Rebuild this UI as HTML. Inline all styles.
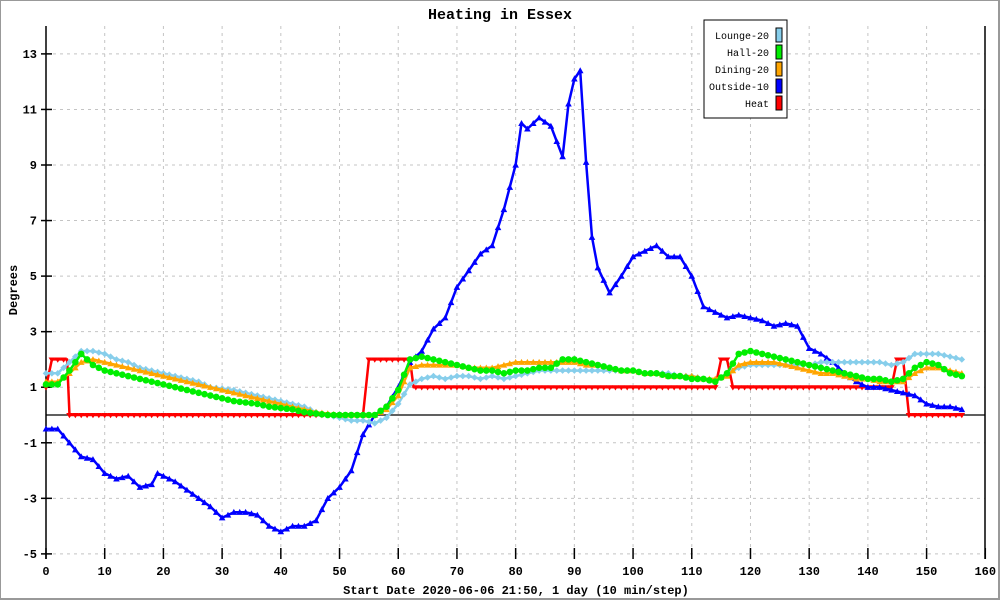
<!DOCTYPE html>
<html><head><meta charset="utf-8"><style>
body{margin:0;background:#fff}
svg{display:block;font-family:"Liberation Mono",monospace}
</style></head><body>
<svg id="chart" width="1000" height="600" viewBox="0 0 1000 600">
<rect x="0" y="0" width="999" height="599" fill="#fff" stroke="#999" stroke-width="2"/>
<text x="500" y="19" text-anchor="middle" font-size="15" font-weight="bold">Heating in Essex</text>
<g id="grid"></g><g id="axes"></g><g id="series"></g>
<text x="516" y="594" text-anchor="middle" font-size="12" font-weight="bold">Start Date 2020-06-06 21:50, 1 day (10 min/step)</text>
<text transform="translate(17,290) rotate(-90)" text-anchor="middle" font-size="12" font-weight="bold">Degrees</text>
<g>
<rect x="704" y="20" width="83" height="98" fill="#fff" stroke="#000" stroke-width="1"/>
<g id="legend"></g>
</g>
</svg>
<script>
const evenSteps=[];for(let s=0;s<=156;s+=2)evenSteps.push(s);
const loungeVals=[1.5,1.5,1.9,2.3,2.3,2.2,2.0,1.9,1.7,1.6,1.5,1.4,1.3,1.2,1.0,0.95,0.9,0.8,0.7,0.6,0.5,0.4,0.3,0.1,0.0,-0.1,-0.2,-0.2,-0.3,-0.1,0.4,1.1,1.3,1.4,1.3,1.4,1.4,1.3,1.4,1.3,1.4,1.5,1.6,1.6,1.6,1.6,1.6,1.6,1.6,1.6,1.6,1.5,1.5,1.5,1.4,1.4,1.3,1.2,1.5,1.7,1.8,1.8,1.8,1.8,1.8,1.8,1.9,1.9,1.9,1.9,1.9,1.9,1.8,1.9,2.2,2.2,2.2,2.1,2.0];
const hallVals=[1.1,1.1,1.6,2.2,1.8,1.6,1.5,1.4,1.3,1.2,1.1,1.0,0.9,0.8,0.7,0.6,0.5,0.45,0.4,0.3,0.25,0.2,0.1,0.05,0,0,0,0,0,0.3,0.9,2.0,2.1,2.0,1.9,1.8,1.7,1.6,1.6,1.5,1.6,1.6,1.7,1.7,2.0,2.0,1.9,1.8,1.7,1.6,1.6,1.5,1.5,1.4,1.4,1.3,1.3,1.2,1.5,2.2,2.3,2.2,2.1,2.0,1.9,1.8,1.7,1.6,1.5,1.4,1.3,1.3,1.2,1.3,1.7,1.9,1.8,1.5,1.4];
const diningVals=[1.2,1.2,1.5,1.9,2.0,1.9,1.8,1.7,1.6,1.5,1.4,1.3,1.2,1.1,1.0,0.9,0.8,0.7,0.6,0.5,0.4,0.3,0.2,0.1,0.05,0,0,0,0,0.2,0.7,1.7,1.8,1.8,1.8,1.8,1.7,1.7,1.7,1.8,1.9,1.9,1.9,1.9,1.9,1.9,1.8,1.8,1.7,1.6,1.6,1.5,1.5,1.4,1.4,1.4,1.3,1.3,1.4,1.8,1.9,1.9,1.9,1.8,1.7,1.6,1.5,1.5,1.4,1.3,1.3,1.2,1.2,1.2,1.5,1.7,1.7,1.6,1.5];
const outsideSteps=[0,2,4,6,8,10,12,14,16,18,19,20,22,24,26,28,30,32,34,36,38,40,42,44,46,48,50,52,54,56,58,60,62,64,66,68,70,72,74,76,78,80,81,82,84,86,88,89,90,91,92,93,94,96,98,100,102,104,106,108,110,112,114,116,118,120,122,124,126,128,130,132,134,136,138,140,142,144,146,148,150,152,154,156];
const outsideVals=[-0.5,-0.5,-1.0,-1.5,-1.6,-2.1,-2.3,-2.2,-2.6,-2.5,-2.1,-2.2,-2.4,-2.7,-3.0,-3.3,-3.7,-3.5,-3.5,-3.6,-4.0,-4.2,-4.0,-4.0,-3.8,-3.0,-2.6,-2.0,-0.7,0,0.3,1.0,1.9,2.3,3.1,3.5,4.6,5.2,5.8,6.1,7.4,9.0,10.5,10.3,10.7,10.4,9.3,11.2,12.1,12.4,9.1,6.4,5.3,4.4,5.0,5.7,5.9,6.1,5.7,5.7,5.0,3.9,3.7,3.5,3.6,3.5,3.4,3.2,3.3,3.2,2.4,2.2,1.9,1.5,1.2,1.0,1.0,0.9,0.8,0.7,0.4,0.3,0.3,0.2];
const heatSteps=[0,1,2,3,3.6,4,8,12,16,20,24,28,32,36,40,44,48,52,54,55,56,58,60,62,62.6,66,70,74,78,82,86,90,94,98,102,106,110,114,115,116,117,120,124,128,132,136,140,144,145,146,147,150,153,156];
const heatVals=[1,2,2,2,2,0,0,0,0,0,0,0,0,0,0,0,0,0,0,2,2,2,2,2,1,1,1,1,1,1,1,1,1,1,1,1,1,1,2,2,1,1,1,1,1,1,1,1,2,2,0,0,0,0];
const xTicks=[0,10,20,30,40,50,60,70,80,90,100,110,120,130,140,150,160];
const yTicks=[-5,-3,-1,1,3,5,7,9,11,13];
const legendLabels=["Lounge-20","Hall-20","Dining-20","Outside-10","Heat"];
const legendColors=["#87ceeb","#00ee00","#ffa500","#0000ff","#ff0000"];

const X=v=>46+v*(985.3-46)/160;
const Y=v=>415-v*(500/18);
const NS="http://www.w3.org/2000/svg";
function mk(tag,attrs,parent){const e=document.createElementNS(NS,tag);for(const k in attrs)e.setAttribute(k,attrs[k]);parent.appendChild(e);return e;}
const grid=document.getElementById('grid'),axes=document.getElementById('axes'),ser=document.getElementById('series'),leg=document.getElementById('legend');
xTicks.forEach(t=>{
  if(t>0&&t<160){const g=mk('line',{x1:X(t),x2:X(t),y1:26,y2:554,stroke:'#c4c4c4','stroke-dasharray':'3,4'},grid);
  
  }
  const tk=mk('line',{x1:X(t),x2:X(t),y1:548,y2:559,stroke:'#000','stroke-width':1.5},axes);
  
  
  const tx=mk('text',{x:X(t),y:575,'text-anchor':'middle','font-size':12,'font-weight':'bold'},axes);
  tx.textContent=t;
  
  
});
yTicks.forEach(t=>{
  const g=mk('line',{x1:46,x2:985,y1:Y(t),y2:Y(t),stroke:'#c4c4c4','stroke-dasharray':'3,4'},grid);
  
  
  const tk=mk('line',{x1:41,x2:52,y1:Y(t),y2:Y(t),stroke:'#000','stroke-width':1.5},axes);
  
  
  const tx=mk('text',{x:37,y:Y(t)+4,'text-anchor':'end','font-size':12,'font-weight':'bold'},axes);
  tx.textContent=t;
  
  
});
const la=mk('line',{x1:46,x2:46,y1:26,y2:559,stroke:'#000','stroke-width':1.5},axes);


const ra=mk('line',{x1:985,x2:985,y1:26,y2:559,stroke:'#000','stroke-width':1.5},axes);


const zl=mk('line',{x1:46,x2:985,y1:Y(0),y2:Y(0),stroke:'#000','stroke-width':1.2},axes);



function interp(steps,vals,s){
  for(let i=0;i<steps.length-1;i++){if(s>=steps[i]&&s<=steps[i+1]){const f=(s-steps[i])/((steps[i+1]-steps[i])||1);return vals[i]+f*(vals[i+1]-vals[i]);}}
  return vals[vals.length-1];
}
function marker(shape,x,y,c,g){
  const r=3.3;let p;
  if(shape==='diamond')p=`${x},${y-r} ${x+r},${y} ${x},${y+r} ${x-r},${y}`;
  else if(shape==='up')p=`${x},${y-r} ${x+r},${y+r*0.8} ${x-r},${y+r*0.8}`;
  else if(shape==='down')p=`${x-r},${y-r*0.6} ${x+r},${y-r*0.6} ${x},${y+r}`;
  if(shape==='circle')return mk('circle',{cx:x,cy:y,r:r,fill:c},g);
  return mk('polygon',{points:p,fill:c},g);
}
function series(name,steps,vals,color,shape){
  const g=mk('g',{},ser);
  
  
  const pts=steps.map((s,i)=>X(s).toFixed(1)+','+Y(vals[i]).toFixed(1)).join(' ');
  const l=mk('polyline',{points:pts,fill:'none',stroke:color,'stroke-width':2.5,'stroke-linejoin':'round'},g);
  
  
  const last=steps[steps.length-1];
  for(let s=steps[0];s<=last;s++){
    const m=marker(shape,X(s),Y(interp(steps,vals,s)),color,g);
    
    
  }
}
series('heat-series',heatSteps,heatVals,'#ff0000','down');
series('outside-series',outsideSteps,outsideVals,'#0000ff','up');
series('lounge-series',evenSteps,loungeVals,'#87ceeb','diamond');
series('dining-series',evenSteps,diningVals,'#ffa500','up');
series('hall-series',evenSteps,hallVals,'#00ee00','circle');

legendLabels.forEach((lab,i)=>{
  const y=35+i*17;
  const t=mk('text',{x:769,y:y+4,'text-anchor':'end','font-size':10},leg);
  t.textContent=lab;
  
  
  const r=mk('rect',{x:776,y:y-7,width:6,height:14,fill:legendColors[i],stroke:'#000','stroke-width':1},leg);
  
  
});
</script>
</body></html>
